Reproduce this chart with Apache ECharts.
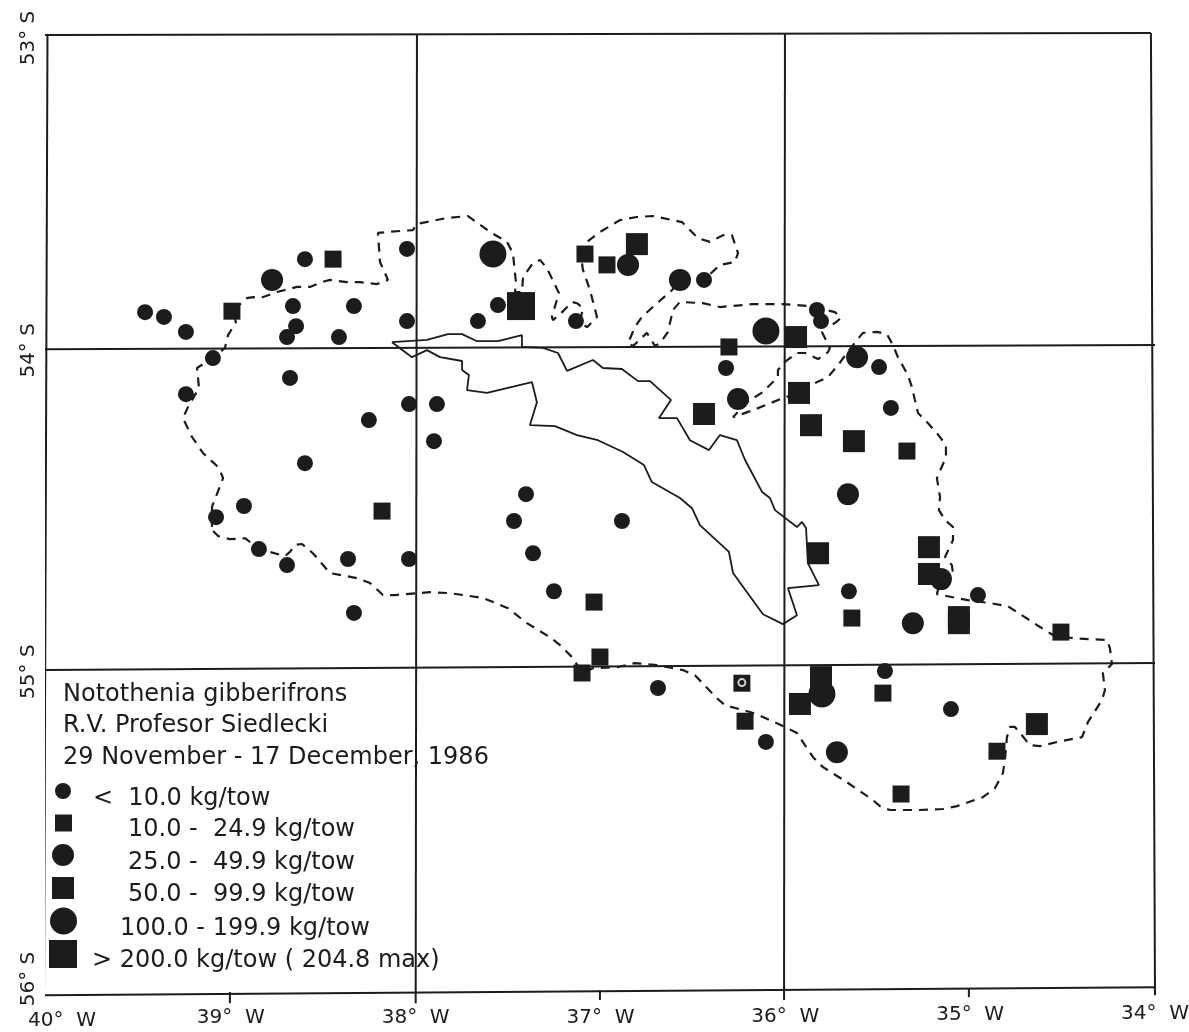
<!DOCTYPE html>
<html><head><meta charset="utf-8">
<style>html,body{margin:0;padding:0;background:#fff}#c{width:1189px;height:1032px}</style>
<script src="https://cdn.jsdelivr.net/npm/echarts@6/dist/echarts.min.js"></script>
</head><body><div id="c"></div>
<script>
// Tick labels
const lonTicks = [-40,-39,-38,-37,-36,-35,-34];
const latTicks = [53,54,55,56];
// Catch stations [lon, lat] by catch class
const under10 = [[-39.464,53.871],[-39.362,53.886],[-39.243,53.933],[-39.097,54.015],[-39.243,54.128],[-38.599,53.705],[-38.664,53.852],[-38.647,53.915],[-38.696,53.949],[-38.334,53.852],[-38.415,53.949],[-38.047,53.673],[-38.047,53.899],[-38.680,54.077],[-38.036,54.159],[-38.253,54.209],[-37.885,54.159],[-37.901,54.275],[-37.555,53.849],[-37.663,53.899],[-37.133,53.899],[-36.321,54.046],[-36.440,53.770],[-35.829,53.864],[-35.807,53.899],[-37.403,54.441],[-37.468,54.525],[-36.884,54.525],[-37.365,54.626],[-37.252,54.745],[-38.036,54.644],[-38.599,54.344],[-38.929,54.478],[-39.080,54.513],[-38.848,54.613],[-38.696,54.663],[-38.366,54.644],[-38.334,54.813],[-35.493,54.043],[-35.429,54.171],[-35.656,54.745],[-34.958,54.757],[-36.689,55.048],[-36.105,55.217],[-35.461,54.995],[-35.104,55.114]];
const from10 = [[-38.994,53.868],[-38.447,53.705],[-37.084,53.689],[-36.965,53.723],[-36.305,53.980],[-38.182,54.494],[-37.035,54.779],[-37.003,54.951],[-37.100,55.001],[-36.235,55.033],[-36.218,55.152],[-35.472,55.064],[-35.374,55.380],[-35.342,54.306],[-35.640,54.829],[-34.509,54.873],[-34.855,55.246]];
const from25 = [[-38.777,53.770],[-36.851,53.723],[-36.256,54.143],[-35.612,54.012],[-35.158,54.707],[-35.310,54.845],[-35.721,55.249],[-35.661,54.441],[-36.570,53.770]];
const from50 = [[-36.803,53.658],[-36.440,54.190],[-35.942,53.949],[-35.926,54.124],[-35.861,54.225],[-35.629,54.275],[-35.823,54.626],[-35.223,54.607],[-35.223,54.691],[-35.061,54.826],[-35.061,54.845],[-35.807,55.014],[-35.921,55.098],[-34.639,55.161]];
const from100 = [[-37.582,53.689],[-36.105,53.930],[-35.802,55.067]];
const over200 = [[-37.430,53.852]];
const whiteCentre = [[-36.235,55.031]];
// Survey boundary (dashed), island shelf (solid)
const stratum = [[-39.102,54.544],[-39.102,54.481],[-39.042,54.391],[-39.064,54.359],[-39.151,54.312],[-39.210,54.262],[-39.259,54.203],[-39.232,54.168],[-39.172,54.109],[-39.183,54.046],[-39.151,54.034],[-39.097,54.015],[-39.032,53.983],[-39.015,53.943],[-38.972,53.902],[-38.994,53.868],[-38.913,53.827],[-38.880,53.824],[-38.842,53.827],[-38.750,53.808],[-38.642,53.792],[-38.572,53.792],[-38.507,53.777],[-38.464,53.770],[-38.372,53.777],[-38.301,53.777],[-38.209,53.783],[-38.150,53.770],[-38.193,53.714],[-38.204,53.623],[-38.155,53.620],[-38.015,53.614],[-37.993,53.595],[-37.831,53.576],[-37.717,53.570],[-37.598,53.620],[-37.506,53.651],[-37.474,53.686],[-37.457,53.780],[-37.463,53.808],[-37.425,53.808],[-37.419,53.761],[-37.365,53.717],[-37.327,53.708],[-37.290,53.733],[-37.225,53.811],[-37.263,53.886],[-37.257,53.896],[-37.208,53.871],[-37.154,53.839],[-37.127,53.843],[-37.095,53.858],[-37.111,53.902],[-37.073,53.918],[-37.019,53.886],[-37.057,53.802],[-37.095,53.739],[-37.100,53.717],[-37.073,53.651],[-37.003,53.620],[-36.895,53.583],[-36.803,53.573],[-36.716,53.570],[-36.559,53.589],[-36.473,53.639],[-36.408,53.651],[-36.337,53.630],[-36.289,53.630],[-36.256,53.686],[-36.273,53.714],[-36.354,53.723],[-36.440,53.770],[-36.570,53.770],[-36.613,53.802],[-36.694,53.843],[-36.776,53.886],[-36.814,53.918],[-36.851,53.968],[-36.824,53.977],[-36.749,53.936],[-36.705,53.977],[-36.678,53.968],[-36.635,53.933],[-36.608,53.864],[-36.570,53.839],[-36.446,53.843],[-36.354,53.855],[-36.175,53.846],[-36.013,53.846],[-35.867,53.852],[-35.732,53.871],[-35.699,53.889],[-35.732,53.905],[-35.769,53.918],[-35.802,53.902],[-35.802,53.933],[-35.759,53.983],[-35.769,53.996],[-35.823,54.018],[-35.894,53.999],[-35.937,53.999],[-36.002,54.027],[-36.040,54.052],[-36.040,54.074],[-36.121,54.121],[-36.208,54.153],[-36.283,54.200],[-36.175,54.178],[-36.013,54.140],[-35.926,54.124],[-35.840,54.093],[-35.769,54.074],[-35.715,54.037],[-35.667,53.999],[-35.612,53.958],[-35.580,53.936],[-35.504,53.933],[-35.450,53.940],[-35.418,53.974],[-35.391,54.012],[-35.337,54.068],[-35.315,54.106],[-35.299,54.146],[-35.282,54.187],[-35.234,54.215],[-35.180,54.250],[-35.131,54.287],[-35.131,54.325],[-35.180,54.391],[-35.163,54.450],[-35.169,54.491],[-35.136,54.522],[-35.093,54.544],[-35.093,54.585],[-35.136,54.638],[-35.099,54.663],[-35.093,54.688],[-35.158,54.707],[-35.180,54.754],[-35.012,54.773],[-34.893,54.782],[-34.796,54.792],[-34.747,54.810],[-34.622,54.857],[-34.552,54.882],[-34.444,54.892],[-34.260,54.898],[-34.244,54.923],[-34.233,54.973],[-34.282,55.001],[-34.271,55.055],[-34.287,55.086],[-34.363,55.155],[-34.395,55.202],[-34.530,55.217],[-34.622,55.230],[-34.677,55.227],[-34.720,55.196],[-34.758,55.170],[-34.785,55.170],[-34.801,55.202],[-34.812,55.274],[-34.823,55.315],[-34.866,55.362],[-34.931,55.390],[-35.071,55.418],[-35.147,55.427],[-35.272,55.430],[-35.434,55.430],[-35.488,55.418],[-35.526,55.399],[-35.667,55.343],[-35.796,55.296],[-35.851,55.264],[-35.894,55.227],[-35.937,55.189],[-36.002,55.170],[-36.121,55.139],[-36.191,55.123],[-36.327,55.102],[-36.370,55.080],[-36.489,55.008],[-36.554,54.992],[-36.694,54.976],[-36.814,54.970],[-36.911,54.983],[-37.041,54.986],[-37.100,55.001],[-37.149,54.954],[-37.219,54.914],[-37.273,54.889],[-37.398,54.845],[-37.501,54.798],[-37.636,54.766],[-37.814,54.751],[-37.923,54.748],[-37.993,54.751],[-38.112,54.757],[-38.177,54.757],[-38.247,54.719],[-38.317,54.704],[-38.464,54.688],[-38.501,54.663],[-38.556,54.626],[-38.615,54.597],[-38.653,54.600],[-38.680,54.622],[-38.707,54.635],[-38.788,54.622],[-38.848,54.613],[-38.923,54.579],[-39.005,54.582],[-39.069,54.572],[-39.102,54.553],[-39.102,54.544]];
const shelf = [[-38.128,53.965],[-37.939,53.958],[-37.825,53.940],[-37.749,53.940],[-37.668,53.962],[-37.555,53.962],[-37.425,53.943],[-37.425,53.980],[-37.311,53.983],[-37.230,53.999],[-37.181,54.055],[-37.041,54.021],[-36.987,54.046],[-36.884,54.049],[-36.797,54.087],[-36.732,54.087],[-36.619,54.146],[-36.684,54.203],[-36.586,54.203],[-36.516,54.272],[-36.413,54.303],[-36.354,54.256],[-36.262,54.272],[-36.218,54.334],[-36.126,54.434],[-36.083,54.453],[-36.056,54.491],[-35.937,54.544],[-35.910,54.528],[-35.888,54.547],[-35.878,54.657],[-35.818,54.726],[-35.986,54.735],[-35.937,54.820],[-36.013,54.848],[-36.121,54.817],[-36.283,54.688],[-36.305,54.622],[-36.462,54.538],[-36.505,54.485],[-36.570,54.453],[-36.722,54.403],[-36.765,54.350],[-36.878,54.309],[-37.014,54.272],[-37.127,54.256],[-37.246,54.228],[-37.382,54.225],[-37.344,54.153],[-37.371,54.090],[-37.614,54.124],[-37.722,54.115],[-37.712,54.068],[-37.749,54.052],[-37.749,54.024],[-37.868,54.012],[-37.939,53.990],[-38.020,54.012],[-38.128,53.965]];
// Graticule as scanned (slightly skewed), frame and tick marks
const frameLines = [
 [[-40.022,53.003],[-34.022,52.997]],
 [[-40.043,56.010],[-34.000,55.985]],
 [[-39.992,53.003],[-40.011,56.041]],
 [[-34.022,52.997],[-34.000,56.010]],
 [[-40.032,53.987],[-34.000,53.974]],
 [[-40.038,54.992],[-34.000,54.970]],
 [[-37.993,53.000],[-38.000,56.035]],
 [[-36.002,53.000],[-36.007,56.025]],
 [[-39.005,56.000],[-39.005,56.035]],
 [[-37.003,55.994],[-37.003,56.025]],
 [[-35.007,55.988],[-35.007,56.016]]
];
const titleLines = ['Notothenia gibberifrons','R.V. Profesor Siedlecki','29 November - 17 December, 1986'];
const classNames = ['<  10.0 kg/tow','10.0 -  24.9 kg/tow','25.0 -  49.9 kg/tow','50.0 -  99.9 kg/tow','100.0 - 199.9 kg/tow','> 200.0 kg/tow ( 204.8 max)'];
const classData = [under10,from10,from25,from50,from100,over200];

const INK = '#1c1c1c', FONT = '"DejaVu Sans"';
const classStyle = [
 {symbol:'circle',size:16,left:55,top:783,pad:17,drop:16},
 {symbol:'rect',size:17,left:55,top:814.5,pad:51,drop:14},
 {symbol:'circle',size:22,left:52,top:844,pad:49,drop:16},
 {symbol:'rect',size:22,left:52,top:877,pad:49,drop:14},
 {symbol:'circle',size:27,left:50,top:907.5,pad:38,drop:16},
 {symbol:'rect',size:28,left:49,top:940,pad:10,drop:14}
];
const lineBase = {type:'line',showSymbol:false,symbol:'none',silent:true,clip:false,animation:false};
const series = [];
frameLines.forEach(d=>series.push(Object.assign({},lineBase,{data:d,lineStyle:{color:INK,width:2},z:1})));
series.push(Object.assign({},lineBase,{name:'Stratum',data:stratum,lineStyle:{color:INK,width:2.2,type:[9,7]},z:2}));
series.push(Object.assign({},lineBase,{name:'Shelf',data:shelf,lineStyle:{color:INK,width:1.8},z:2}));
classNames.forEach((n,i)=>series.push({type:'scatter',name:n,data:classData[i],symbol:classStyle[i].symbol,symbolSize:classStyle[i].size,itemStyle:{color:INK,opacity:1},silent:true,animation:false,z:3}));
series.push({type:'scatter',data:whiteCentre,symbol:'circle',symbolSize:7,itemStyle:{color:INK,borderColor:'#fff',borderWidth:2},silent:true,animation:false,z:4});

const xPad = {'-40':[7,0,0,32],'-39':[4,0,0,0],'-38':[4,0,0,0],'-37':[4,0,0,0],'-36':[3,0,0,0],'-35':[1,0,0,0],'-34':[0,0,0,0]};
const xRich = {}; lonTicks.forEach((t,i)=>{xRich['x'+i]={padding:xPad[t],fontFamily:FONT,fontSize:20,color:INK};});
const yPad = {53:[0,8,0,0],54:[0,0,0,6],55:[0,0,0,2],56:[0,0,0,26]};
const yRich = {}; latTicks.forEach((t,i)=>{yRich['y'+i]={padding:yPad[t],fontFamily:FONT,fontSize:20,color:INK};});

const option = {
 animation:false,
 backgroundColor:'#fff',
 title:{text:titleLines.join('\n'),left:63,top:679,padding:0,textStyle:{fontFamily:FONT,fontSize:24,fontWeight:'normal',lineHeight:31.5,color:INK}},
 legend:classNames.map((n,i)=>({
   data:[n],left:classStyle[i].left,top:classStyle[i].top,padding:0,selectedMode:false,
   itemWidth:classStyle[i].size,itemHeight:classStyle[i].size,
   formatter:'{r|{name}}',
   textStyle:{rich:{r:{fontFamily:FONT,fontSize:24,color:INK,padding:[classStyle[i].drop,0,0,classStyle[i].pad]}}}
 })),
 grid:{left:46,top:34,width:1109,height:958,outerBoundsMode:'none'},
 xAxis:{type:'value',min:-40,max:-34,interval:1,position:'bottom',
   axisLine:{show:false},axisTick:{show:false},splitLine:{show:false},
   axisLabel:{margin:12,showMinLabel:true,showMaxLabel:true,hideOverlap:false,verticalAlign:'top',
     formatter:v=>`{x${lonTicks.indexOf(v)}|${Math.abs(v)}°  W}`,rich:xRich}},
 yAxis:{type:'value',min:53,max:56,interval:1,inverse:true,position:'left',
   axisLine:{show:false},axisTick:{show:false},splitLine:{show:false},
   axisLabel:{rotate:90,margin:7,showMinLabel:true,showMaxLabel:true,hideOverlap:false,
     formatter:v=>`{y${latTicks.indexOf(v)}|${v}° S}`,rich:yRich}},
 series
};
const chart = echarts.init(document.getElementById('c'),null,{renderer:'canvas'});
chart.setOption(option);
</script></body></html>
